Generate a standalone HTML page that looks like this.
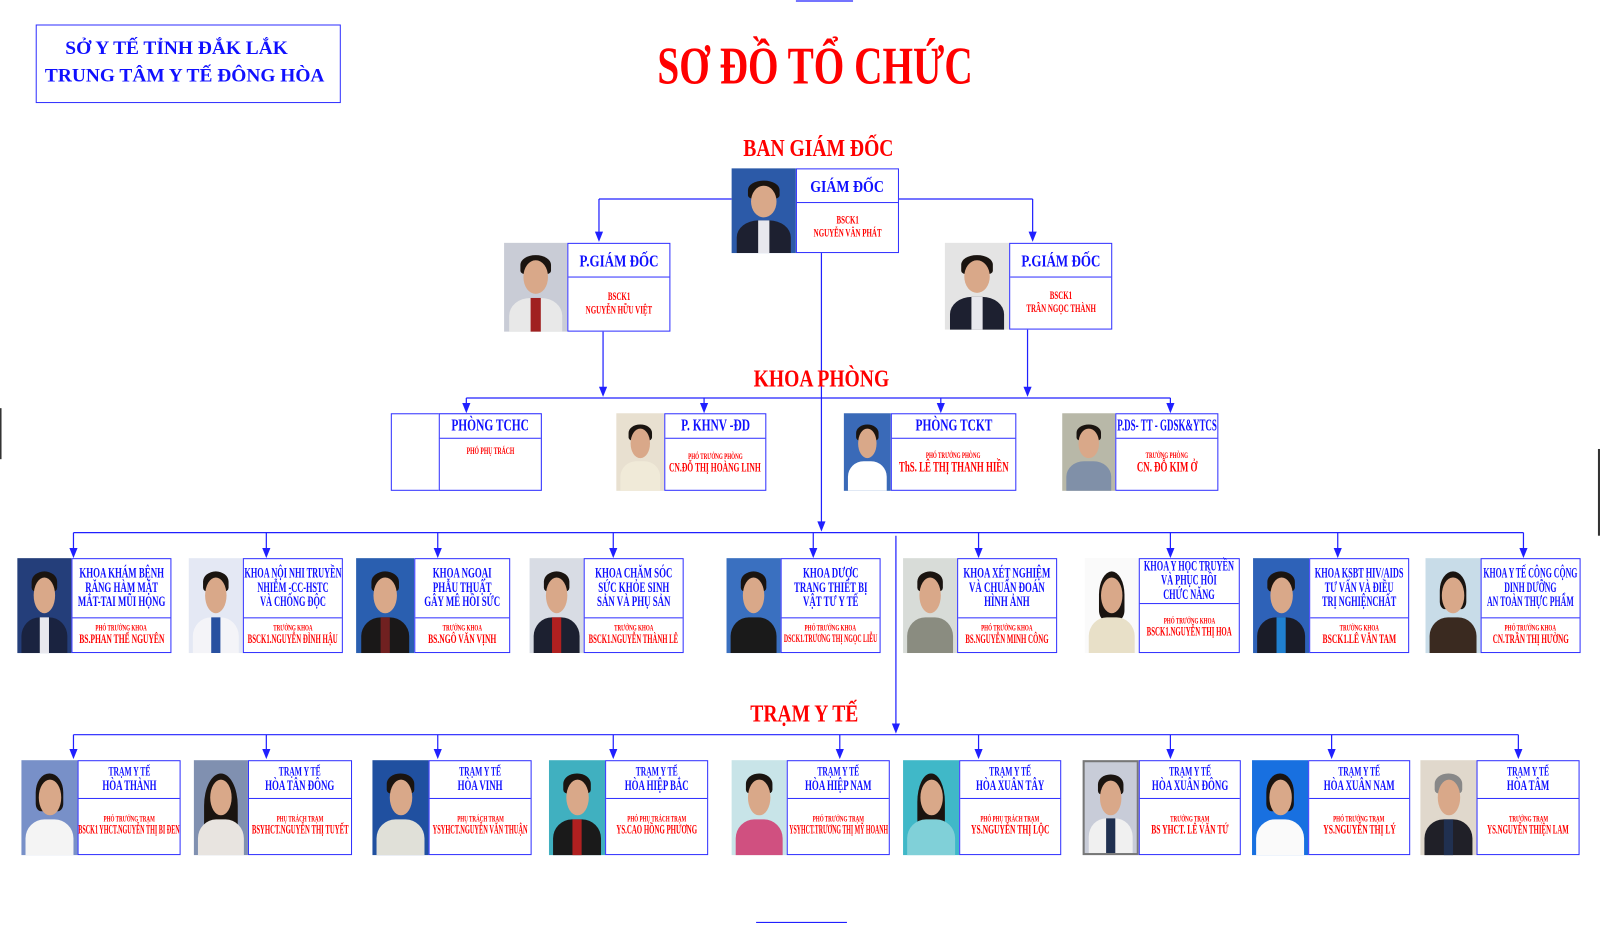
<!DOCTYPE html>
<html><head><meta charset="utf-8">
<style>
body{margin:0;width:1600px;height:923px;background:#fff;position:relative;overflow:hidden;font-family:"Liberation Serif","DejaVu Serif",serif}
#w{position:absolute;left:0;top:0;width:1568px;height:905px;transform:scale(1.0204);transform-origin:0 0}
.a{position:absolute}
.b{position:absolute;border:1px solid #3030ff;background:#fff;box-sizing:border-box}
.h{position:absolute;left:0;right:0;top:0;border-bottom:1px solid #3030ff;display:flex;align-items:center;justify-content:center;text-align:center;color:#1010ff;font-weight:bold;line-height:1.0}
.r{position:absolute;left:0;right:0;bottom:0;display:flex;flex-direction:column;align-items:center;justify-content:center;text-align:center;color:#f00;font-weight:bold;line-height:1.15}
.k{display:inline-block;transform:scaleX(.62);white-space:nowrap}
.s{font-size:8px}
.p{position:absolute;overflow:hidden;box-sizing:border-box}
.hd{position:absolute;left:30%;width:40%;top:20%;height:38%;border-radius:50%;background:#d9a889}
.hr{position:absolute;left:26%;width:48%;top:14%;height:22%;border-radius:50% 50% 20% 20%;background:#1a1410}
.bd{position:absolute;left:8%;width:84%;top:62%;height:50%;border-radius:40% 40% 0 0;background:#1d2030}
.sh{position:absolute;left:42%;width:16%;top:62%;height:40%;background:#e8e8ee}
.red{color:#f00;font-weight:bold;position:absolute;white-space:nowrap}
</style></head><body><div id="w">
<svg class="a" style="left:0;top:0" width="1600" height="923">
<g stroke="#2020ff" stroke-width="1.2" fill="none">
<line x1="587" y1="195" x2="717" y2="195"/><line x1="881" y1="195" x2="1012" y2="195"/>
<line x1="587" y1="195" x2="587" y2="228"/><line x1="1012" y1="195" x2="1012" y2="228"/>
<line x1="805" y1="248" x2="805" y2="512"/>
<line x1="591" y1="325" x2="591" y2="380"/><line x1="1007" y1="323" x2="1007" y2="380"/>
<line x1="457" y1="390" x2="1147" y2="390"/>
<line x1="457" y1="390" x2="457" y2="396"/><line x1="690" y1="390" x2="690" y2="396"/><line x1="922" y1="390" x2="922" y2="396"/><line x1="1147" y1="390" x2="1147" y2="396"/>
<line x1="72" y1="522" x2="1493" y2="522"/>
<line x1="72" y1="522" x2="72" y2="538"/><line x1="261" y1="522" x2="261" y2="538"/><line x1="429" y1="522" x2="429" y2="538"/><line x1="601" y1="522" x2="601" y2="538"/><line x1="797" y1="522" x2="797" y2="538"/><line x1="959" y1="522" x2="959" y2="538"/><line x1="1147" y1="522" x2="1147" y2="538"/><line x1="1311" y1="522" x2="1311" y2="538"/><line x1="1493" y1="522" x2="1493" y2="538"/>
<line x1="878" y1="525" x2="878" y2="710"/>
<line x1="72" y1="720" x2="1488" y2="720"/>
<line x1="72" y1="720" x2="72" y2="735"/><line x1="261" y1="720" x2="261" y2="735"/><line x1="429" y1="720" x2="429" y2="735"/><line x1="601" y1="720" x2="601" y2="735"/><line x1="823" y1="720" x2="823" y2="735"/><line x1="959" y1="720" x2="959" y2="735"/><line x1="1147" y1="720" x2="1147" y2="735"/><line x1="1305" y1="720" x2="1305" y2="735"/><line x1="1488" y1="720" x2="1488" y2="735"/>
<line x1="780" y1="1" x2="836" y2="1"/><line x1="741" y1="904" x2="830" y2="904"/>
</g>
<g fill="#2020ff">
<polygon points="583,227 591,227 587,237"/><polygon points="1008,227 1016,227 1012,237"/>
<polygon points="801,511 809,511 805,521"/>
<polygon points="587,379 595,379 591,389"/><polygon points="1003,379 1011,379 1007,389"/>
<polygon points="453,395 461,395 457,405"/><polygon points="686,395 694,395 690,405"/><polygon points="918,395 926,395 922,405"/><polygon points="1143,395 1151,395 1147,405"/>
<polygon points="68,537 76,537 72,547"/><polygon points="257,537 265,537 261,547"/><polygon points="425,537 433,537 429,547"/><polygon points="597,537 605,537 601,547"/><polygon points="793,537 801,537 797,547"/><polygon points="955,537 963,537 959,547"/><polygon points="1143,537 1151,537 1147,547"/><polygon points="1307,537 1315,537 1311,547"/><polygon points="1489,537 1497,537 1493,547"/>
<polygon points="874,709 882,709 878,719"/>
<polygon points="68,734 76,734 72,744"/><polygon points="257,734 265,734 261,744"/><polygon points="425,734 433,734 429,744"/><polygon points="597,734 605,734 601,744"/><polygon points="819,734 827,734 823,744"/><polygon points="955,734 963,734 959,744"/><polygon points="1143,734 1151,734 1147,744"/><polygon points="1301,734 1309,734 1305,744"/><polygon points="1484,734 1492,734 1488,744"/>
</g>
<rect x="0" y="400" width="1.5" height="50" fill="#333"/><rect x="1566" y="440" width="2" height="85" fill="#333"/>
</svg>

<div class="b" style="left:35px;top:24px;width:299px;height:77px"></div>
<div class="a" style="left:64px;top:34px;color:#1010ff;font-weight:bold;font-size:19px;line-height:27px;white-space:nowrap">SỞ Y TẾ TỈNH ĐẮK LẮK</div>
<div class="a" style="left:44px;top:61px;color:#1010ff;font-weight:bold;font-size:19px;line-height:27px;white-space:nowrap">TRUNG TÂM Y TẾ ĐÔNG HÒA</div>
<div class="red" style="left:590px;top:38px;width:400px;text-align:center;font-size:52px;line-height:56px"><span class="k" style="transform:scaleX(.74)">SƠ ĐỒ TỔ CHỨC</span></div>
<div class="red" style="left:702px;top:132px;width:200px;text-align:center;font-size:24px;line-height:28px"><span class="k" style="transform:scaleX(.8)">BAN GIÁM ĐỐC</span></div>
<div class="red" style="left:705px;top:358px;width:200px;text-align:center;font-size:24px;line-height:28px"><span class="k" style="transform:scaleX(.8)">KHOA PHÒNG</span></div>
<div class="red" style="left:688px;top:686px;width:200px;text-align:center;font-size:24px;line-height:28px"><span class="k" style="transform:scaleX(.8)">TRẠM Y TẾ</span></div>

<!-- Director -->
<div class="p" style="left:717px;top:165px;width:63px;height:83px;background:#2c5aa8"><div class="hr"></div><div class="hd"></div><div class="bd"></div><div class="sh"></div></div>
<div class="b" style="left:780px;top:165px;width:101px;height:83px"><div class="h" style="height:32px;font-size:17px"><span class="k" style="transform:scaleX(.8)">GIÁM ĐỐC</span></div><div class="r" style="top:32px;font-size:11px"><span class="k">BSCK1</span><span class="k">NGUYỄN VĂN PHÁT</span></div></div>
<div class="p" style="left:494px;top:238px;width:62px;height:87px;background:#c9ccd6"><div class="hr"></div><div class="hd"></div><div class="bd" style="background:#e8e8e8"></div><div class="sh" style="background:#a02020"></div></div>
<div class="b" style="left:556px;top:238px;width:101px;height:87px"><div class="h" style="height:32px;font-size:17px"><span class="k" style="transform:scaleX(.75)">P.GIÁM ĐỐC</span></div><div class="r" style="top:32px;font-size:11px"><span class="k">BSCK1</span><span class="k">NGUYỄN HỮU VIỆT</span></div></div>
<div class="p" style="left:926px;top:238px;width:63px;height:85px;background:#e4e4e4"><div class="hr"></div><div class="hd"></div><div class="bd"></div><div class="sh"></div></div>
<div class="b" style="left:989px;top:238px;width:101px;height:85px"><div class="h" style="height:32px;font-size:17px"><span class="k" style="transform:scaleX(.75)">P.GIÁM ĐỐC</span></div><div class="r" style="top:32px;font-size:11px"><span class="k">BSCK1</span><span class="k">TRẦN NGỌC THÀNH</span></div></div>

<!-- Phong -->
<div class="b" style="left:383px;top:405px;width:148px;height:76px"></div>
<div class="b" style="left:430px;top:405px;width:101px;height:76px"><div class="h" style="height:23px;font-size:16px"><span class="k" style="transform:scaleX(.7)">PHÒNG TCHC</span></div><div class="r" style="top:23px;justify-content:flex-start;padding-top:8px;font-size:9px"><span class="k">PHÓ PHỤ TRÁCH</span></div></div>
<div class="p" style="left:604px;top:405px;width:47px;height:76px;background:#e8e0d0"><div class="hr"></div><div class="hd"></div><div class="bd" style="background:#f0ead8"></div></div>
<div class="b" style="left:651px;top:405px;width:100px;height:76px"><div class="h" style="height:23px;font-size:16px"><span class="k" style="transform:scaleX(.7)">P. KHNV -ĐD</span></div><div class="r" style="top:23px;font-size:12px"><span class="k s">PHÓ TRƯỞNG PHÒNG</span><span class="k">CN.ĐỖ THỊ HOÀNG LINH</span></div></div>
<div class="p" style="left:827px;top:405px;width:46px;height:76px;background:#3a6ab8"><div class="hr"></div><div class="hd"></div><div class="bd" style="background:#fff"></div></div>
<div class="b" style="left:873px;top:405px;width:123px;height:76px"><div class="h" style="height:23px;font-size:16px"><span class="k" style="transform:scaleX(.7)">PHÒNG TCKT</span></div><div class="r" style="top:23px;font-size:14px"><span class="k s">PHÓ TRƯỞNG PHÒNG</span><span class="k">ThS. LÊ THỊ THANH HIỀN</span></div></div>
<div class="p" style="left:1041px;top:405px;width:52px;height:76px;background:#b8b8a8"><div class="hr"></div><div class="hd"></div><div class="bd" style="background:#8090a8"></div></div>
<div class="b" style="left:1093px;top:405px;width:101px;height:76px"><div class="h" style="height:23px;font-size:16px"><span class="k" style="transform:scaleX(.55)">P.DS- TT - GDSK&amp;YTCS</span></div><div class="r" style="top:23px;font-size:14px"><span class="k s">TRƯỞNG PHÒNG</span><span class="k">CN. ĐỖ KIM Ở</span></div></div>

<!-- Khoa -->
<div class="p" style="left:17px;top:547px;width:53px;height:93px;background:#243e7a"><div class="hr"></div><div class="hd"></div><div class="bd" style="background:#1a2340"></div><div class="sh"></div></div>
<div class="b" style="left:70px;top:547px;width:98px;height:93px"><div class="h" style="height:57px;font-size:14px"><span class="k">KHOA KHÁM BỆNH<br>RĂNG HÀM MẶT<br>MẮT-TAI MŨI HỌNG</span></div><div class="r" style="top:57px;font-size:12px"><span class="k s">PHÓ TRƯỞNG KHOA</span><span class="k">BS.PHAN THẾ NGUYÊN</span></div></div>
<div class="p" style="left:185px;top:547px;width:53px;height:93px;background:#e4e8f4"><div class="hr"></div><div class="hd"></div><div class="bd" style="background:#f4f4f8"></div><div class="sh" style="background:#2850a0"></div></div>
<div class="b" style="left:238px;top:547px;width:98px;height:93px"><div class="h" style="height:57px;font-size:14px"><span class="k" style="transform:scaleX(.58)">KHOA NỘI NHI TRUYỀN<br>NHIỄM -CC-HSTC<br>VÀ CHỐNG ĐỘC</span></div><div class="r" style="top:57px;font-size:12px"><span class="k s">TRƯỞNG KHOA</span><span class="k" style="transform:scaleX(.56)">BSCK1.NGUYỄN ĐÌNH HẬU</span></div></div>
<div class="p" style="left:349px;top:547px;width:57px;height:93px;background:#2a5fb0"><div class="hr"></div><div class="hd"></div><div class="bd" style="background:#1a1818"></div><div class="sh" style="background:#702020"></div></div>
<div class="b" style="left:406px;top:547px;width:94px;height:93px"><div class="h" style="height:57px;font-size:14px"><span class="k">KHOA NGOẠI<br>PHẪU THUẬT<br>GÂY MÊ HỒI SỨC</span></div><div class="r" style="top:57px;font-size:12px"><span class="k s">TRƯỞNG KHOA</span><span class="k">BS.NGÔ VĂN VỊNH</span></div></div>
<div class="p" style="left:519px;top:547px;width:53px;height:93px;background:#d8dce4"><div class="hr"></div><div class="hd"></div><div class="bd" style="background:#1c2030"></div><div class="sh" style="background:#b02020"></div></div>
<div class="b" style="left:572px;top:547px;width:98px;height:93px"><div class="h" style="height:57px;font-size:14px"><span class="k">KHOA CHĂM SÓC<br>SỨC KHỎE SINH<br>SẢN VÀ PHỤ SẢN</span></div><div class="r" style="top:57px;font-size:12px"><span class="k s">TRƯỞNG KHOA</span><span class="k" style="transform:scaleX(.55)">BSCK1.NGUYỄN THÀNH LÊ</span></div></div>
<div class="p" style="left:712px;top:547px;width:53px;height:93px;background:#3a70c0"><div class="hr"></div><div class="hd"></div><div class="bd" style="background:#1a1a1a"></div></div>
<div class="b" style="left:765px;top:547px;width:98px;height:93px"><div class="h" style="height:57px;font-size:14px"><span class="k">KHOA DƯỢC<br>TRANG THIẾT BỊ<br>VẬT TƯ Y TẾ</span></div><div class="r" style="top:57px;font-size:11px"><span class="k s">PHÓ TRƯỞNG KHOA</span><span class="k" style="transform:scaleX(.52)">DSCK1.TRƯƠNG THỊ NGỌC LIỄU</span></div></div>
<div class="p" style="left:885px;top:547px;width:53px;height:93px;background:#d8dcd8"><div class="hr"></div><div class="hd"></div><div class="bd" style="background:#8a8c80"></div></div>
<div class="b" style="left:938px;top:547px;width:98px;height:93px"><div class="h" style="height:57px;font-size:14px"><span class="k">KHOA XÉT NGHIỆM<br>VÀ CHUẨN ĐOÁN<br>HÌNH ẢNH</span></div><div class="r" style="top:57px;font-size:12px"><span class="k s">PHÓ TRƯỞNG KHOA</span><span class="k" style="transform:scaleX(.56)">BS.NGUYỄN MINH CÔNG</span></div></div>
<div class="p" style="left:1063px;top:547px;width:53px;height:93px;background:#fafafa"><div class="hr" style="height:50%"></div><div class="hd"></div><div class="bd" style="background:#e8e0c8"></div></div>
<div class="b" style="left:1116px;top:547px;width:99px;height:93px"><div class="h" style="height:43px;font-size:14px"><span class="k" style="transform:scaleX(.58)">KHOA Y HỌC TRUYỀN<br>VÀ PHỤC HỒI<br>CHỨC NĂNG</span></div><div class="r" style="top:43px;font-size:12px"><span class="k s">PHÓ TRƯỞNG KHOA</span><span class="k" style="transform:scaleX(.56)">BSCK1.NGUYỄN THỊ HOA</span></div></div>
<div class="p" style="left:1228px;top:547px;width:55px;height:93px;background:#2e62b8"><div class="hr"></div><div class="hd"></div><div class="bd" style="background:#1a1c28"></div><div class="sh" style="background:#2080d0"></div></div>
<div class="b" style="left:1283px;top:547px;width:98px;height:93px"><div class="h" style="height:57px;font-size:14px"><span class="k" style="transform:scaleX(.58)">KHOA KSBT HIV/AIDS<br>TƯ VẤN VÀ ĐIỀU<br>TRỊ NGHIỆNCHẤT</span></div><div class="r" style="top:57px;font-size:12px"><span class="k s">TRƯỞNG KHOA</span><span class="k">BSCK1.LÊ VĂN TAM</span></div></div>
<div class="p" style="left:1397px;top:547px;width:54px;height:93px;background:#c8dce8"><div class="hr" style="height:40%"></div><div class="hd"></div><div class="bd" style="background:#3a2a20"></div></div>
<div class="b" style="left:1451px;top:547px;width:98px;height:93px"><div class="h" style="height:57px;font-size:14px"><span class="k" style="transform:scaleX(.55)">KHOA Y TẾ CÔNG CỘNG<br>DINH DƯỠNG<br>AN TOÀN THỰC PHẨM</span></div><div class="r" style="top:57px;font-size:12px"><span class="k s">PHÓ TRƯỞNG KHOA</span><span class="k" style="transform:scaleX(.58)">CN.TRẦN THỊ HƯỜNG</span></div></div>

<!-- Tram -->
<div class="p" style="left:21px;top:745px;width:55px;height:93px;background:#7890c8"><div class="hr" style="height:40%"></div><div class="hd"></div><div class="bd" style="background:#f4f4f4"></div></div>
<div class="b" style="left:76px;top:745px;width:101px;height:93px"><div class="h" style="height:36px;font-size:14px"><span class="k"><span style="font-size:12px">TRẠM Y TẾ</span><br>HÒA THÀNH</span></div><div class="r" style="top:36px;font-size:12px"><span class="k s">PHÓ TRƯỞNG TRẠM</span><span class="k" style="transform:scaleX(.5)">BSCK1 YHCT.NGUYỄN THỊ BI ĐEN</span></div></div>
<div class="p" style="left:190px;top:745px;width:53px;height:93px;background:#8090b0"><div class="hr" style="height:70%;left:18%;width:64%"></div><div class="hd"></div><div class="bd" style="background:#e8e4e0"></div></div>
<div class="b" style="left:243px;top:745px;width:102px;height:93px"><div class="h" style="height:36px;font-size:14px"><span class="k"><span style="font-size:12px">TRẠM Y TẾ</span><br>HÒA TÂN ĐÔNG</span></div><div class="r" style="top:36px;font-size:12px"><span class="k s">PHỤ TRÁCH TRẠM</span><span class="k" style="transform:scaleX(.55)">BSYHCT.NGUYỄN THỊ TUYẾT</span></div></div>
<div class="p" style="left:365px;top:745px;width:55px;height:93px;background:#2050a0"><div class="hr"></div><div class="hd"></div><div class="bd" style="background:#e0e0d8"></div></div>
<div class="b" style="left:420px;top:745px;width:101px;height:93px"><div class="h" style="height:36px;font-size:14px"><span class="k"><span style="font-size:12px">TRẠM Y TẾ</span><br>HÒA VINH</span></div><div class="r" style="top:36px;font-size:12px"><span class="k s">PHỤ TRÁCH TRẠM</span><span class="k" style="transform:scaleX(.52)">YSYHCT.NGUYỄN VĂN THUẬN</span></div></div>
<div class="p" style="left:538px;top:745px;width:55px;height:93px;background:#40b0c0"><div class="hr"></div><div class="hd"></div><div class="bd" style="background:#1a1a1a"></div><div class="sh" style="background:#b02020"></div></div>
<div class="b" style="left:593px;top:745px;width:101px;height:93px"><div class="h" style="height:36px;font-size:14px"><span class="k"><span style="font-size:12px">TRẠM Y TẾ</span><br>HÒA HIỆP BẮC</span></div><div class="r" style="top:36px;font-size:12px"><span class="k s">PHÓ PHỤ TRÁCH TRẠM</span><span class="k" style="transform:scaleX(.56)">YS.CAO HỒNG PHƯƠNG</span></div></div>
<div class="p" style="left:717px;top:745px;width:54px;height:93px;background:#c8e4e8"><div class="hr"></div><div class="hd"></div><div class="bd" style="background:#d05080"></div></div>
<div class="b" style="left:771px;top:745px;width:101px;height:93px"><div class="h" style="height:36px;font-size:14px"><span class="k"><span style="font-size:12px">TRẠM Y TẾ</span><br>HÒA HIỆP NAM</span></div><div class="r" style="top:36px;font-size:12px"><span class="k s">PHÓ TRƯỞNG TRẠM</span><span class="k" style="transform:scaleX(.48)">YSYHCT.TRƯƠNG THỊ MỸ HOANH</span></div></div>
<div class="p" style="left:885px;top:745px;width:55px;height:93px;background:#40b8c8"><div class="hr" style="height:60%"></div><div class="hd"></div><div class="bd" style="background:#80d0d8"></div></div>
<div class="b" style="left:940px;top:745px;width:100px;height:93px"><div class="h" style="height:36px;font-size:14px"><span class="k"><span style="font-size:12px">TRẠM Y TẾ</span><br>HÒA XUÂN TÂY</span></div><div class="r" style="top:36px;font-size:12px"><span class="k s">PHÓ PHỤ TRÁCH TRẠM</span><span class="k">YS.NGUYỄN THỊ LỘC</span></div></div>
<div class="p" style="left:1061px;top:745px;width:55px;height:93px;background:#c8ccd8;border:2px solid #777"><div class="hr"></div><div class="hd"></div><div class="bd" style="background:#f0f0f0"></div><div class="sh" style="background:#203050"></div></div>
<div class="b" style="left:1116px;top:745px;width:100px;height:93px"><div class="h" style="height:36px;font-size:14px"><span class="k"><span style="font-size:12px">TRẠM Y TẾ</span><br>HÒA XUÂN ĐÔNG</span></div><div class="r" style="top:36px;font-size:12px"><span class="k s">TRƯỞNG TRẠM</span><span class="k">BS YHCT. LÊ VĂN TỨ</span></div></div>
<div class="p" style="left:1227px;top:745px;width:55px;height:93px;background:#1870e0"><div class="hr" style="height:40%"></div><div class="hd"></div><div class="bd" style="background:#fafafa"></div></div>
<div class="b" style="left:1282px;top:745px;width:100px;height:93px"><div class="h" style="height:36px;font-size:14px"><span class="k"><span style="font-size:12px">TRẠM Y TẾ</span><br>HÒA XUÂN NAM</span></div><div class="r" style="top:36px;font-size:12px"><span class="k s">PHÓ TRƯỞNG TRẠM</span><span class="k">YS.NGUYỄN THỊ LÝ</span></div></div>
<div class="p" style="left:1392px;top:745px;width:55px;height:93px;background:#e0d8cc"><div class="hr" style="background:#888"></div><div class="hd"></div><div class="bd" style="background:#202028"></div><div class="sh" style="background:#203050"></div></div>
<div class="b" style="left:1447px;top:745px;width:101px;height:93px"><div class="h" style="height:36px;font-size:14px"><span class="k"><span style="font-size:12px">TRẠM Y TẾ</span><br>HÒA TÂM</span></div><div class="r" style="top:36px;font-size:12px"><span class="k s">TRƯỞNG TRẠM</span><span class="k" style="transform:scaleX(.56)">YS.NGUYỄN THIỆN LAM</span></div></div>
</div></body></html>
